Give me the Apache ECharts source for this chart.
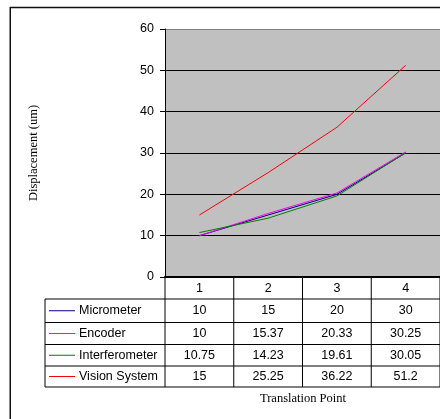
<!DOCTYPE html>
<html>
<head>
<meta charset="utf-8">
<script src="https://cdn.jsdelivr.net/npm/echarts@6/dist/echarts.min.js"></script>
<style>
html,body{margin:0;padding:0;background:#fff;overflow:hidden;}
#main{width:440px;height:419px;}
</style>
</head>
<body>
<div id="main"></div>
<script>
// ---- data ----
const categories = ['1', '2', '3', '4'];
const seriesNames = ['Micrometer', 'Encoder', 'Interferometer', 'Vision System'];
const micrometer = [10, 15, 20, 30];
const encoder = [10, 15.37, 20.33, 30.25];
const interferometer = [10.75, 14.23, 19.61, 30.05];
const visionSystem = [15, 25.25, 36.22, 51.2];
const yTickValues = [0, 10, 20, 30, 40, 50, 60];
const yAxisTitle = 'Displacement (um)';
const xAxisTitle = 'Translation Point';

// ---- style ----
const colors = ['#000080', '#FF00FF', '#008000', '#FF0000'];
const sans = 'Liberation Sans, Arial, sans-serif';
const serif = 'Liberation Serif, Times New Roman, serif';
const fs = 12.5;
const allSeries = [micrometer, encoder, interferometer, visionSystem];

const chart = echarts.init(document.getElementById('main'), null, {renderer: 'canvas'});

const option = {
  animation: false,
  backgroundColor: '#fff',
  grid: {left: 165, top: 29, width: 276, height: 248, backgroundColor: '#C0C0C0', show: true, borderWidth: 0},
  xAxis: {
    type: 'category',
    data: categories,
    boundaryGap: true,
    axisLine: {show: true, lineStyle: {color: '#000', width: 2}},
    axisTick: {show: false},
    axisLabel: {color: '#000', fontFamily: sans, fontSize: fs, margin: 5}
  },
  yAxis: {
    type: 'value',
    min: yTickValues[0],
    max: yTickValues[yTickValues.length - 1],
    interval: 10,
    name: yAxisTitle,
    nameLocation: 'middle',
    nameRotate: 90,
    nameGap: 125,
    nameTextStyle: {color: '#000', fontFamily: serif, fontSize: fs},
    axisLine: {show: true, lineStyle: {color: '#000', width: 1}},
    axisTick: {show: true, length: 5, lineStyle: {color: '#000'}},
    axisLabel: {color: '#000', fontFamily: sans, fontSize: fs, margin: 11},
    splitLine: {show: true, lineStyle: {color: ['#000', '#000', '#000', '#000', '#000', '#000', '#808080'], width: 1}}
  },
  series: seriesNames.map((n, i) => ({
    name: n,
    type: 'line',
    data: allSeries[i],
    symbol: 'none',
    lineStyle: {color: colors[i], width: 1},
    itemStyle: {color: colors[i]},
    z: 3
  }))
};
chart.setOption(option);

// ---- data table built from the axis scale ----
const centers = categories.map((c, i) => chart.convertToPixel({xAxisIndex: 0}, i));
const band = centers[1] - centers[0];
const bounds = [centers[0] - band / 2].concat(centers.map(c => c + band / 2));
const axisY = chart.convertToPixel({yAxisIndex: 0}, 0);
const rowTops = [axisY + 22, axisY + 45.5, axisY + 67.5, axisY + 89, axisY + 110];
const tableLeft = 45;
const tableRight = bounds[bounds.length - 1];
const lineSt = {stroke: '#000', lineWidth: 1};
const g = [];

// outer border (top and left edges only are visible)
g.push({type: 'line', shape: {x1: 10, y1: 7.5, x2: 440, y2: 7.5}, style: {stroke: '#111', lineWidth: 1.5}, silent: true, z: 0});
g.push({type: 'line', shape: {x1: 10.25, y1: 7, x2: 10.25, y2: 419}, style: {stroke: '#111', lineWidth: 1.5}, silent: true, z: 0});

// horizontal rules
rowTops.forEach(y => g.push({type: 'line', shape: {x1: tableLeft, y1: y, x2: tableRight, y2: y}, style: lineSt, z: 10}));
// vertical rules
g.push({type: 'line', shape: {x1: tableLeft, y1: rowTops[0], x2: tableLeft, y2: rowTops[4]}, style: lineSt, z: 10});
bounds.forEach(x => g.push({type: 'line', shape: {x1: x, y1: axisY, x2: x, y2: rowTops[4]}, style: lineSt, z: 10}));

// rows
seriesNames.forEach((n, r) => {
  const yc = (rowTops[r] + rowTops[r + 1]) / 2;
  g.push({type: 'line', shape: {x1: 49, y1: yc, x2: 75, y2: yc}, style: {stroke: colors[r], lineWidth: 1}, z: 10});
  g.push({type: 'text', x: 79, y: yc, style: {text: n, fill: '#000', font: fs + 'px ' + sans, textVerticalAlign: 'middle', textAlign: 'left'}, z: 10});
  allSeries[r].forEach((v, c) => {
    g.push({type: 'text', x: centers[c], y: yc, style: {text: String(v), fill: '#000', font: fs + 'px ' + sans, textVerticalAlign: 'middle', textAlign: 'center'}, z: 10});
  });
});

// x axis title
g.push({type: 'text', x: 303, y: 399, style: {text: xAxisTitle, fill: '#000', font: fs + 'px ' + serif, textVerticalAlign: 'middle', textAlign: 'center'}, z: 10});

chart.setOption({graphic: {elements: g}});
</script>
</body>
</html>
